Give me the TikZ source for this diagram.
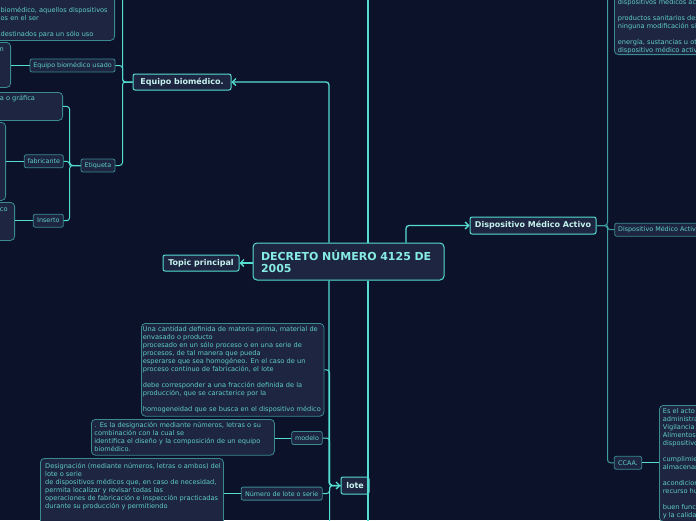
\documentclass[tikz,border=0pt]{standalone}
\usepackage{fontspec}
\setmainfont{DejaVu Sans}
\usepackage{xcolor}
\usetikzlibrary{arrows.meta}

\definecolor{navy}{HTML}{0B1229}
\definecolor{boxfill}{HTML}{1E2541}
\definecolor{rim}{HTML}{3A8A90}
\definecolor{glow}{HTML}{55DDD2}
\definecolor{dimline}{HTML}{3E9EA0}
\definecolor{ink}{HTML}{5FCEC6}
\definecolor{inklight}{HTML}{C6F3EE}
\definecolor{inkcenter}{HTML}{86ECE3}

\tikzset{
	topic/.style={draw=glow, fill=boxfill, line width=1pt, rounded corners=2pt, text=inklight,
		font=\fontsize{8}{9}\selectfont\bfseries, inner sep=0pt, minimum height=16pt},
	leaf/.style={draw=rim, fill=boxfill, line width=0.8pt, rounded corners=2pt, text=ink,
		font=\fontsize{6.4}{7.5}\selectfont, inner sep=0pt, minimum height=13pt},
	note/.style={draw=rim, fill=boxfill, line width=0.8pt, rounded corners=4pt, text=ink,
		font=\fontsize{6.6}{8}\selectfont, align=left, inner xsep=3pt, inner ysep=3.2pt},
	notebox/.style={draw=rim, fill=boxfill, line width=0.8pt, rounded corners=4pt, inner sep=0pt},
	notetext/.style={text=ink, font=\fontsize{6.6}{8}\selectfont, align=left, inner sep=0pt},
	trunk/.style={draw=glow, line width=1.3pt, rounded corners=3pt},
	link/.style={draw=glow, line width=1pt, rounded corners=3pt},
	dimlink/.style={draw=dimline, line width=1pt, rounded corners=3pt}
}

\begin{document}
\begin{tikzpicture}
	[x=1pt, y=-1pt, >={Straight Barb[length=3.5pt,width=7pt]}]

	% frame
	\fill[navy] (0,0) rectangle (696,520);
	\useasboundingbox (0,0) rectangle (696,520);
	\clip (0,0) rectangle (696,520);

	% topics
	\node[topic, font=\fontsize{11}{12.5}\selectfont\bfseries, text=inkcenter, align=left,
		text width=175pt, inner xsep=8pt, minimum width=191pt, minimum height=37pt,
		rounded corners=4pt] (c) at (348.5,261.5) {DECRETO NÚMERO 4125 DE\\2005};
	\node[topic, minimum width=98pt] (equipo) at (182,82) {Equipo biomédico.};
	\node[topic, minimum width=76pt] (tp) at (201,263) {Topic principal};
	\node[topic, minimum width=126pt, minimum height=17pt] (dma) at (533,225.5) {Dispositivo Médico Activo};
	\node[topic, minimum width=28pt, minimum height=17pt] (lote) at (355,485.5) {lote};

	% subtopics
	\node[leaf, minimum width=85pt] (usado) at (72.5,65.5) {Equipo biomédico usado};
	\node[leaf, minimum width=34pt] (eti) at (98,165.5) {Etiqueta};
	\node[leaf, minimum width=39pt] (fab) at (43.8,161.3) {fabricante};
	\node[leaf, minimum width=30pt] (ins) at (48.3,220.7) {Inserto};
	\node[leaf, minimum width=30.6pt] (modelo) at (307,438) {modelo};
	\node[leaf, minimum width=81pt] (numero) at (281.7,493.6) {Número de lote o serie};
	\node[leaf, minimum width=27.4pt] (ccaa) at (628,462.8) {CCAA.};
	\node[leaf, anchor=west, inner xsep=3.4pt] (dmaA) at (614.3,229.7) {Dispositivo Médico Activo};

	% notes
	\node[note, anchor=north west, text width=179.5pt, inner xsep=1.5pt] (noteL) at (141,323)
		{Una cantidad definida de materia prima, material de\\envasado o producto\\procesado en un sólo proceso o en una serie de\\procesos, de tal manera que pueda\\esperarse que sea homogéneo. En el caso de un\\proceso continuo de fabricación, el lote\\~\\debe corresponder a una fracción definida de la\\producción, que se caracterice por la\\~\\homogeneidad que se busca en el dispositivo médico};
	\node[note, anchor=north west, text width=177pt] (noteM) at (91,419)
		{. Es la designación mediante números, letras o su\\combinación con la cual se\\identifica el diseño y la composición de un equipo\\biomédico.};
	\node[notebox, anchor=north west, minimum width=183pt, minimum height=71pt] (noteN) at (40,458) {};
	\node[notetext, anchor=north west] (noteNtxt) at (45,462.7)
		{Designación (mediante números, letras o ambos) del\\lote o serie\\de dispositivos médicos que, en caso de necesidad,\\permita localizar y revisar todas las\\operaciones de fabricación e inspección practicadas\\durante su producción y permitiendo};

	\node[notebox, anchor=north east, minimum width=180pt, minimum height=100pt] (noteTop) at (115,-60) {};
	\node[notetext, anchor=north west] (noteToptxt) at (0.5,7.3)
		{biomédico, aquellos dispositivos\\os en el ser\\~\\destinados para un sólo uso};
	\node[notebox, anchor=north east, minimum width=80pt, minimum height=45pt] (noteU) at (11,42) {};
	\node[notetext, anchor=base west] (noteUtxt) at (-0.5,51.7) {n};
	\node[notebox, anchor=north east, minimum width=120pt, minimum height=28pt] (noteE) at (63,92) {};
	\node[notetext, anchor=base west] (noteEtxt) at (-0.3,100.6) {a o gráfica};
	\node[notebox, anchor=north east, minimum width=80pt, minimum height=78pt] (noteF) at (6,122) {};
	\node[notebox, anchor=north east, minimum width=80pt, minimum height=38pt] (noteI) at (15,202) {};
	\node[notetext, anchor=base west] (noteItxt) at (-0.3,211.3) {co};

	\node[notebox, anchor=south west, minimum width=150pt, minimum height=125pt] (noteTR) at (614,55) {};
	\node[notetext, anchor=north west] (noteTRtxt) at (617.7,-1.4)
		{dispositivos médicos activos\\~\\productos sanitarios destinados\\ninguna modificación significativa\\~\\energía, sustancias u otros\\dispositivo médico activo};
	\node[notebox, anchor=north west, minimum width=100pt, minimum height=116pt] (noteC) at (659,405) {};
	\node[notetext, anchor=north west] (noteCtxt) at (662.7,408.3)
		{Es el acto\\administrativo\\Vigilancia\\Alimentos,\\dispositivos\\~\\cumplimiento\\almacenamiento\\~\\acondicionamiento\\recurso humano\\~\\buen funcionamiento\\y la calidad};

	% center branches
	\coordinate (far up) at (368,-10);
	\coordinate (far down) at (368,530);
	\draw[trunk,->] ([xshift=-19.5pt]c.north) |- (equipo.east);
	\draw[trunk,->] (c.west |- tp) -- (tp.east);
	\draw[trunk,->] ([xshift=57.5pt]c.north) |- (dma.west);
	\draw[trunk,->] ([xshift=-19.5pt]c.south) |- (lote.west);
	\draw[trunk] ([xshift=19.5pt]c.north) -- (far up);
	\draw[trunk] ([xshift=19.5pt]c.south) -- (far down);

	% Equipo biomedico
	\draw[link] (equipo.west) -- ++(-10,0) |- (noteTop.east);
	\draw[link] (equipo.west) -- ++(-10,0) |- (usado.east);
	\draw[link] (equipo.west) -- ++(-10,0) |- (eti.east);
	\draw[link] (usado.west) -- (usado.west -| noteU.east);
	\draw[link] (eti.west) -- ++(-11,0) |- (noteE.east);
	\draw[link] (eti.west) -- ++(-11,0) |- (fab.east);
	\draw[link] (eti.west) -- ++(-11,0) |- (ins.east);
	\draw[link] (fab.west) -- (fab.west -| noteF.east);
	\draw[link] (ins.west) -- (ins.west -| noteI.east);

	% lote
	\draw[link] (lote.west) -- ++(-11,0) |- (noteL.east);
	\draw[link] (lote.west) -- ++(-11,0) |- (modelo.east);
	\draw[link] (lote.west) -- ++(-11,0) |- (numero.east);
	\draw[link] (lote.west) -- ++(-11,0) -- ++(0,50);
	\draw[link] (modelo.west) -- (modelo.west -| noteM.east);
	\draw[link] (numero.west) -- (numero.west -| noteN.east);

	% dispositivo medico activo
	\draw[dimlink] (dma.east) -- ++(11,0) |- (noteTR.west);
	\draw[dimlink] (dma.east) -- ++(11,0) |- (dmaA.west);
	\draw[dimlink] (dma.east) -- ++(11,0) |- (ccaa.west);
	\draw[link] (ccaa.east) -- (ccaa.east -| noteC.west);

\end{tikzpicture}
\end{document}
